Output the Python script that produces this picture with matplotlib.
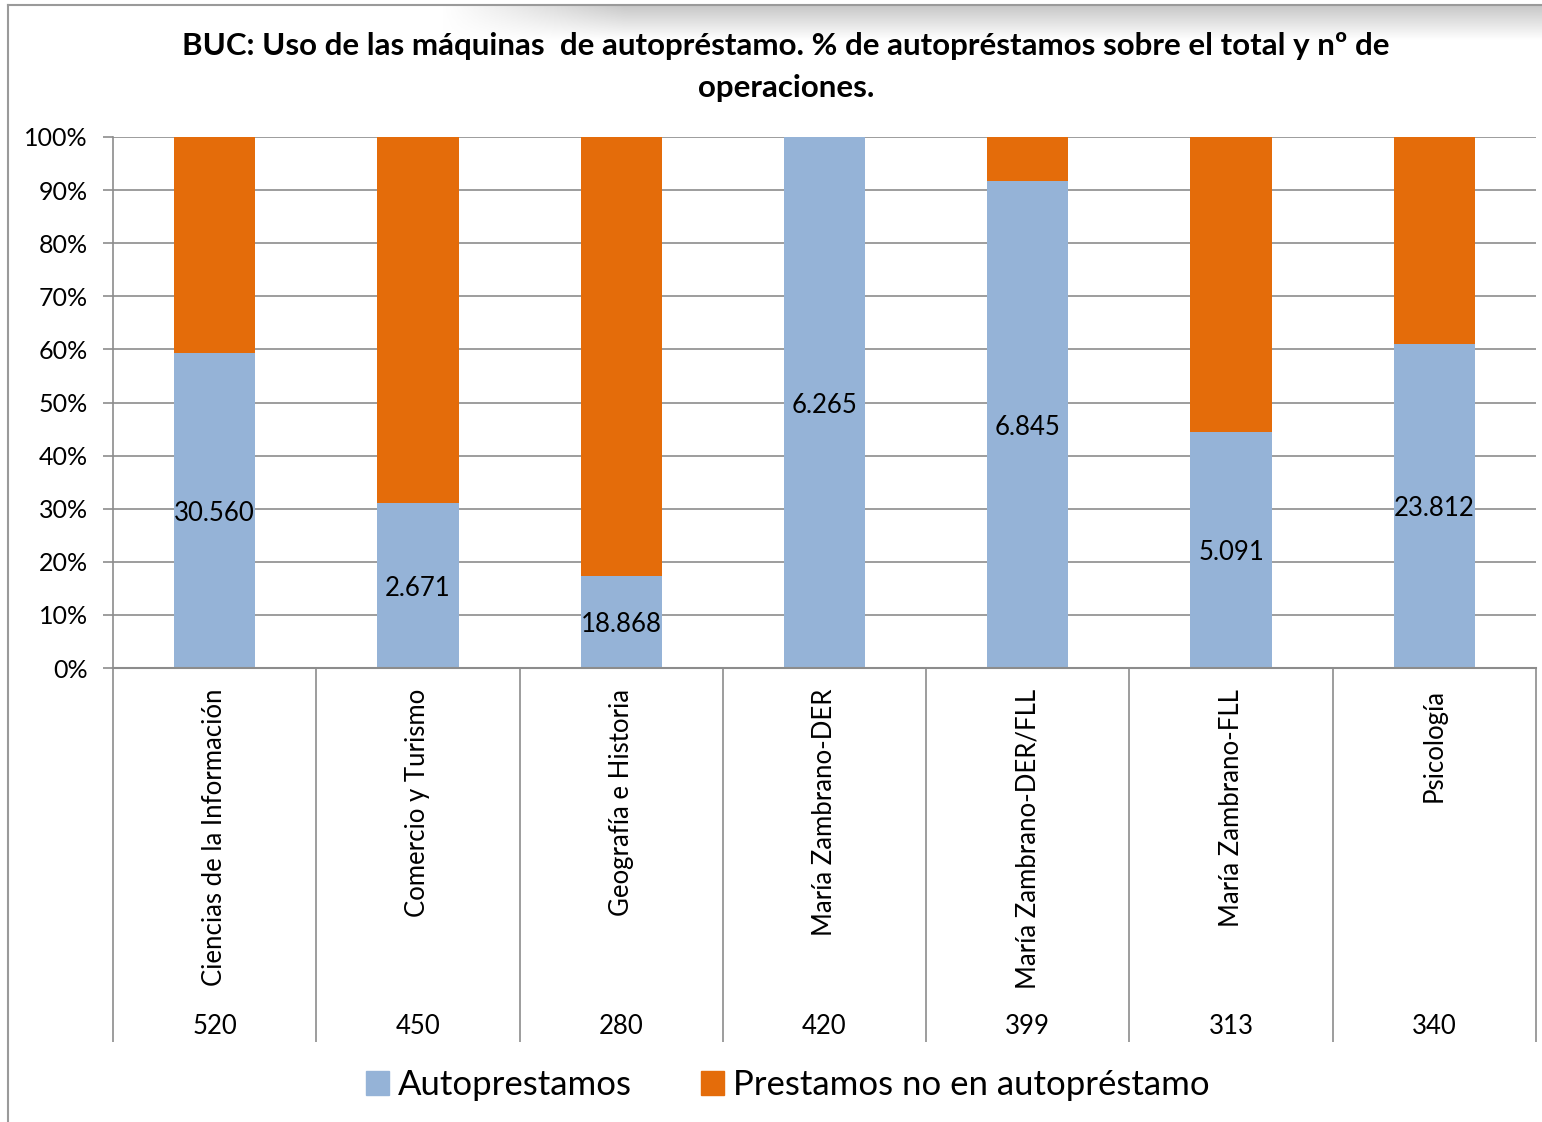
import matplotlib
matplotlib.use("Agg")
import matplotlib.pyplot as plt
from matplotlib.lines import Line2D
from matplotlib.patches import Patch
import numpy as np

categories = ["Ciencias de la Información", "Comercio y Turismo", "Geografía e Historia",
              "María Zambrano-DER", "María Zambrano-DER/FLL", "María Zambrano-FLL", "Psicología"]
operaciones = ["520", "450", "280", "420", "399", "313", "340"]
auto_pct = [59.3, 31.1, 17.3, 100.0, 91.7, 44.4, 61.0]
no_auto_pct = [40.7, 68.9, 82.7, 0.0, 8.3, 55.6, 39.0]
auto_labels = ["30.560", "2.671", "18.868", "6.265", "6.845", "5.091", "23.812"]
yticks = [0, 10, 20, 30, 40, 50, 60, 70, 80, 90, 100]
title = "BUC: Uso de las máquinas  de autopréstamo. % de autopréstamos sobre el total y nº de\noperaciones."
series_names = ["Autoprestamos", "Prestamos no en autopréstamo"]

BLUE = "#95B3D7"
ORANGE = "#E46C0A"
GRID = "#8c8c8c"
FONT = ["Lato", "DejaVu Sans"]
plt.rcParams["font.family"] = FONT

W, H = 1542, 1122
fig = plt.figure(figsize=(W / 100, H / 100), dpi=100)
ax = fig.add_axes([113 / W, 1 - 668 / H, (1536 - 113) / W, (668 - 137) / H])

x = np.arange(len(categories))
ax.bar(x, auto_pct, width=0.4, color=BLUE, zorder=2)
ax.bar(x, no_auto_pct, width=0.4, bottom=auto_pct, color=ORANGE, zorder=2)

ax.set_xlim(-0.5, len(categories) - 0.5)
ax.set_ylim(0, 100)
ax.set_yticks(yticks)
ax.set_yticklabels([f"{v}%" for v in yticks], fontsize=18)
ax.yaxis.grid(True, color=GRID, linewidth=1.2, zorder=0)
ax.tick_params(axis="y", length=7, color=GRID, width=1.2, pad=11)
for s in ["top", "right"]:
    ax.spines[s].set_visible(False)
ax.spines["left"].set_color(GRID)
ax.spines["bottom"].set_color(GRID)
ax.spines["left"].set_linewidth(1.2)
ax.spines["bottom"].set_linewidth(1.5)

# category separators as long ticks
ax.set_xticks(np.arange(len(categories) + 1) - 0.5)
ax.set_xticklabels([])
ax.tick_params(axis="x", length=(1042 - 668) * 72 / 100, direction="out", color=GRID, width=1.2)

trans = ax.get_xaxis_transform()
for i, (c, n, v, lab) in enumerate(zip(categories, operaciones, auto_pct, auto_labels)):
    ax.text(i, -21 / 531, c, rotation=90, ha="center", va="top", fontsize=18.5, transform=trans)
    ax.text(i, -(1027 - 668) / 531, n, ha="center", va="center", fontsize=18.5, transform=trans)
    ax.text(i, v / 2 - 0.5, lab, ha="center", va="center", fontsize=18.5, zorder=3)

fig.text(786 / W, 1 - 67 / H, title, ha="center", va="center", fontsize=22.5,
         fontweight="bold", linespacing=1.65)

handles = [Patch(color=BLUE), Patch(color=ORANGE)]
fig.legend(handles, series_names, loc="center", bbox_to_anchor=(788 / W, 1 - 1085 / H),
           ncol=2, frameon=False, fontsize=25, handlelength=0.66, handleheight=0.66,
           handletextpad=0.25, columnspacing=2.0, borderpad=0)

# chart border
fig.add_artist(Line2D([8 / W, 8 / W], [0, 1 - 5 / H], color="#9a9a9a", linewidth=1.5))
fig.add_artist(Line2D([8 / W, 1], [1 - 5 / H, 1 - 5 / H], color="#9a9a9a", linewidth=1.5))
# top shadow
sh = fig.add_axes([440 / W, 1 - 40 / H, (W - 440) / W, 35 / H])
grad = np.linspace(0.78, 1.0, 50).reshape(-1, 1) * np.ones((1, 200))
xfade = np.clip(np.linspace(0, 6, 200), 0, 1)
img = 1 - (1 - grad) * xfade
sh.imshow(np.dstack([img, img, img]), aspect="auto", extent=[0, 1, 0, 1], origin="upper")
sh.axis("off")

fig.savefig("out.png", dpi=100, facecolor="white")
